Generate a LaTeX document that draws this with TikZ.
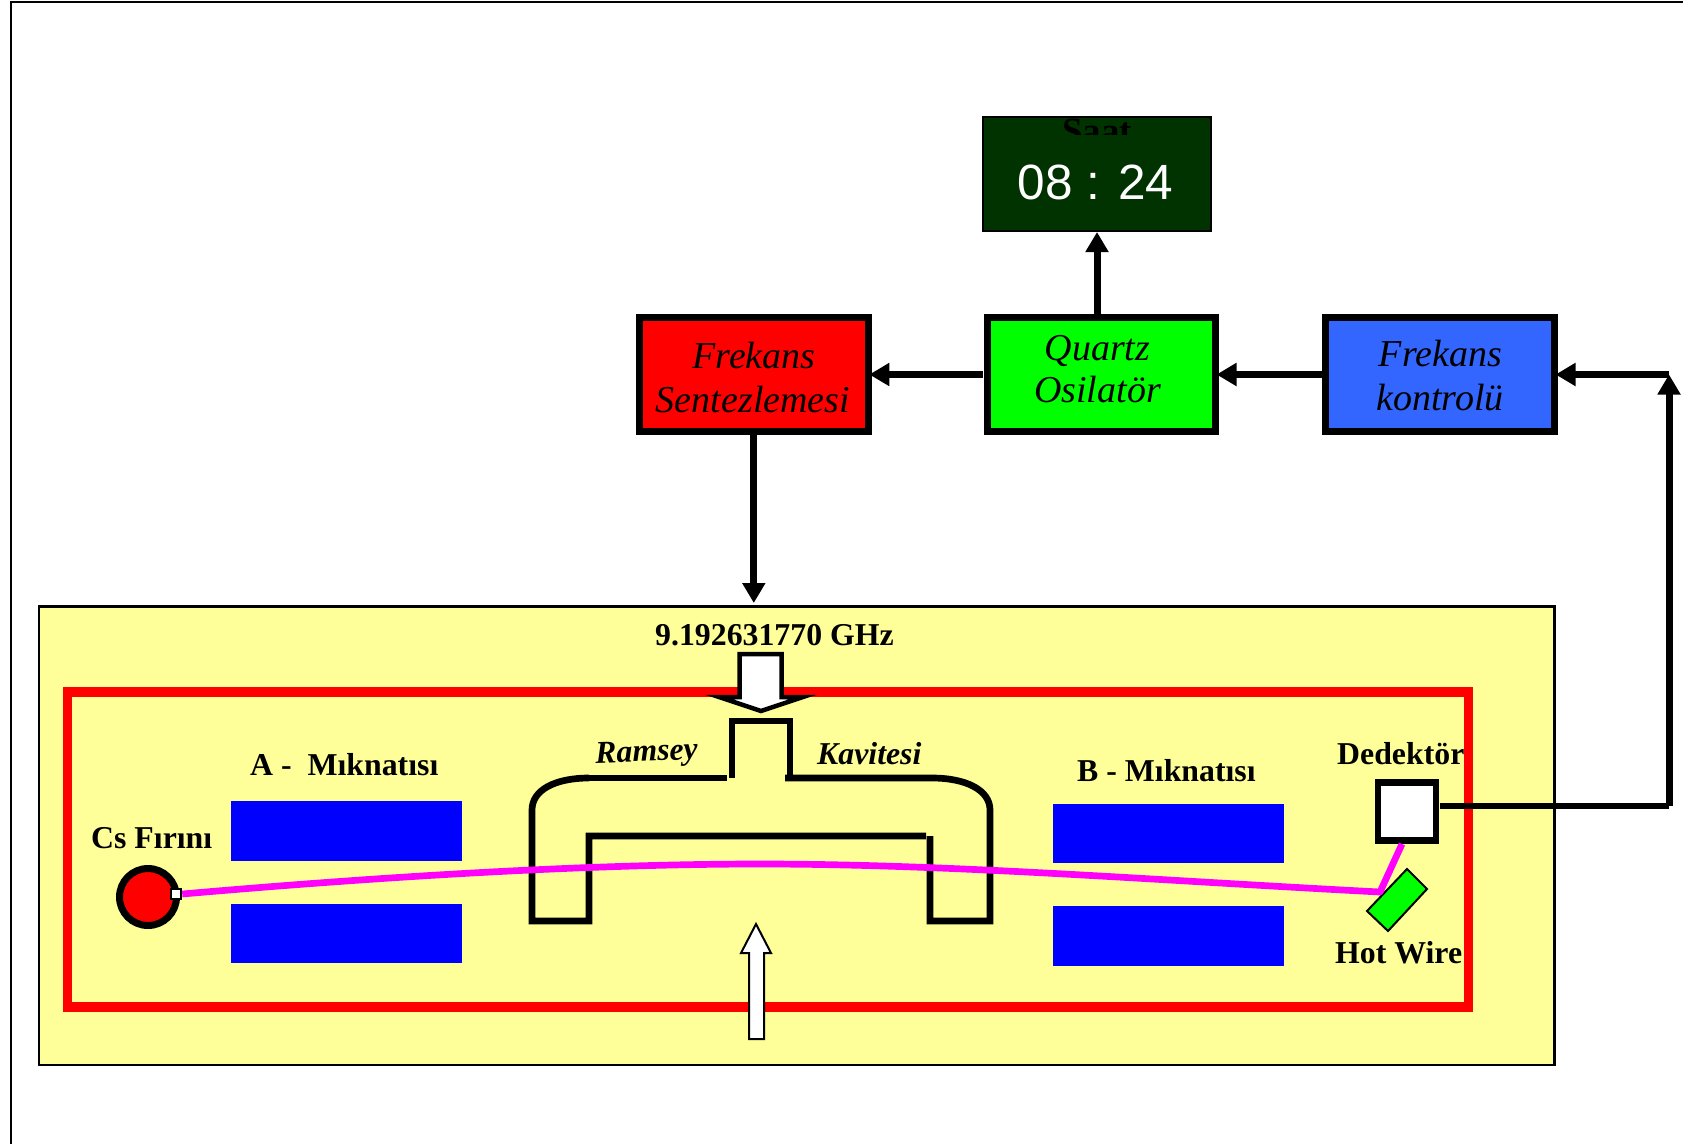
\documentclass[tikz,border=0pt]{standalone}
\usepackage{fontspec}
\setmainfont{Liberation Serif}
\newfontfamily\digitfont{Liberation Sans}
\usetikzlibrary{arrows.meta}
\definecolor{clockgreen}{HTML}{003300}
\definecolor{panelyellow}{HTML}{FFFF99}
\definecolor{ctrlblue}{HTML}{3366FF}
\definecolor{beamcol}{HTML}{FF00FF}
\tikzset{
  blockbox/.style={draw=black,line width=7pt,minimum width=#1,minimum height=114pt,inner sep=0pt,anchor=center},
  blocktext/.style={anchor=base,inner sep=0pt,font=\fontsize{38}{38}\selectfont\itshape},
  boldtext/.style={anchor=base west,inner sep=0pt,font=\fontsize{31.8}{32}\selectfont\bfseries},
  bolditext/.style={anchor=base west,inner sep=0pt,font=\fontsize{31.8}{32}\selectfont\bfseries\itshape},
  magnet/.style={fill=blue,draw=none,minimum width=231pt,inner sep=0pt,anchor=north west},
  flow/.style={line width=7pt,draw=black,-{Triangle[length=20pt,width=22pt]}},
  wire/.style={line width=6.7pt,draw=black},
  cavity/.style={line width=6.7pt,draw=black},
  beam/.style={line width=6.7pt,draw=beamcol,line join=round},
  hollow/.style={fill=white,draw=black}
}
\begin{document}
\begin{tikzpicture}[x=1pt,y=-1pt]
\useasboundingbox (0,0) rectangle (1683,1144);
% outer frame
\coordinate (fbl) at (11,1144);
\coordinate (ftl) at (11,1.5);
\coordinate (ftr) at (1683,1.5);
\draw[line width=2pt] (fbl) -- (ftl) -- (ftr);
% panel
\node[fill=panelyellow,draw=black,line width=2.5pt,minimum width=1515.5pt,minimum height=458.5pt,inner sep=0pt,anchor=north west] (panel) at (37.5,605) {};
\node[draw=red,line width=9.5pt,minimum width=1401pt,minimum height=315pt,inner sep=0pt,anchor=north west] (vac) at (62.7,687) {};
% magnets
\node[magnet,minimum height=60pt] (a1) at (231,801) {};
\node[magnet,minimum height=59pt] (a2) at (231,904) {};
\node[magnet,minimum height=59pt] (b1) at (1053,804) {};
\node[magnet,minimum height=60pt] (b2) at (1053,906) {};
% labels
\node[boldtext] (lghz) at (655,645) {9.192631770 GHz};
\node[boldtext] (la) at (250,775) {A -\ \ Mıknatısı};
\node[boldtext] (lb) at (1077,781.5) {B - Mıknatısı};
\node[boldtext] (lcs) at (91,848) {Cs Fırını};
\node[boldtext] (ldet) at (1337,764) {Dedektör};
\node[boldtext] (lhot) at (1335,963) {Hot Wire};
\node[bolditext,rotate=2] (lram) at (595.5,763) {Ramsey};
\node[bolditext] (lkav) at (817,764) {Kavitesi};
% cavity
\draw[cavity] (727,778) -- (589,778);
\draw[cavity] (589,778) .. controls (555,778) and (532,790) .. (532,810) -- (532,921) -- (589,921) -- (589,836) -- (926,836);
\draw[cavity] (785,778) -- (932,778) .. controls (966,778) and (990,790) .. (990,810) -- (990,921) -- (930,921) -- (930,836);
\draw[cavity] (732,778) -- (732,721) -- (790,721) -- (790,778);
% microwave arrow
\draw[hollow,line width=4.5pt,miter limit=20] (739.5,654) -- (781.5,654) -- (781.5,697) -- (803,697) -- (761,711) -- (719,697) -- (739.5,697) -- cycle;
% up arrow
\draw[hollow,line width=2pt] (749,1039) -- (764,1039) -- (764,953) -- (771,953) -- (756,924) -- (741,953) -- (749,953) -- cycle;
% oven and detector
\node[circle,fill=red,draw=black,line width=7pt,minimum size=57pt,inner sep=0pt] (oven) at (148,897) {};
\node[hollow,line width=6.5pt,minimum size=58pt,inner sep=0pt] (det) at (1407,811.5) {};
\draw[fill=green,draw=black,line width=2pt] (1407,869) -- (1427,889) -- (1388,931) -- (1367,911) -- cycle;
% beam
\coordinate (hot) at (1380,892);
\coordinate (mid) at (760,864);
\coordinate (detin) at (1402,844);
\node[hollow,line width=2.5pt,minimum size=10pt,inner sep=0pt] (nozzle) at (176,894) {};
\draw[beam] (nozzle.east) .. controls (400,875) and (600,864) .. (mid) .. controls (950,864) and (1150,880) .. (hot) -- (detin);
% clock
\node[draw=black,line width=2pt,fill=clockgreen,minimum width=228pt,minimum height=114pt,inner sep=0pt,anchor=north west] (clock) at (982,116) {};
\node[anchor=base west,inner sep=0pt,font=\fontsize{37}{37}\selectfont\bfseries] (saat) at (1062,143) {Saat};
\node[fill=clockgreen,minimum width=226pt,minimum height=95pt,inner sep=0pt,anchor=north west] (clockface) at (984,135) {};
\node[anchor=base,inner sep=0pt,text=white,font=\fontsize{49.5}{50}\selectfont\digitfont] (time) at (1095.5,199) {08 : 24};
% blocks
\node[blockbox=229pt,fill=red] (synth) at (753.8,374.5) {};
\node[blockbox=228pt,fill=green] (quartz) at (1101.5,374.5) {};
\node[blockbox=229pt,fill=ctrlblue] (ctrl) at (1440,374.5) {};
\node[blocktext] (t1a) at (754,368) {Frekans};
\node[blocktext] (t1b) at (753,412) {Sentezlemesi};
\node[blocktext] (t2a) at (1097.5,360) {Quartz};
\node[blocktext] (t2b) at (1097.5,402) {Osilatör};
\node[blocktext] (t3a) at (1440.5,366) {Frekans};
\node[blocktext] (t3b) at (1440,410) {kontrolü};
% connectors
\coordinate (corner) at (1669,806);
\coordinate (topr) at (1669,374.5);
\coordinate (detout) at (1440,806);
\draw[flow] (quartz.north -| clock.south) -- (clock.south);
\draw[flow,shorten <=1.5pt,shorten >=-2.5pt] (quartz.west) -- (synth.east);
\draw[flow,shorten >=-2.5pt] (ctrl.west) -- (quartz.east);
\draw[flow,shorten >=2pt] (synth.south) -- (panel.north -| synth.south);
\draw[wire] (detout) -- (corner);
\draw[flow] (corner) -- (topr);
\draw[flow,shorten >=-2.5pt] (topr) -- (ctrl.east);
\end{tikzpicture}
\end{document}
